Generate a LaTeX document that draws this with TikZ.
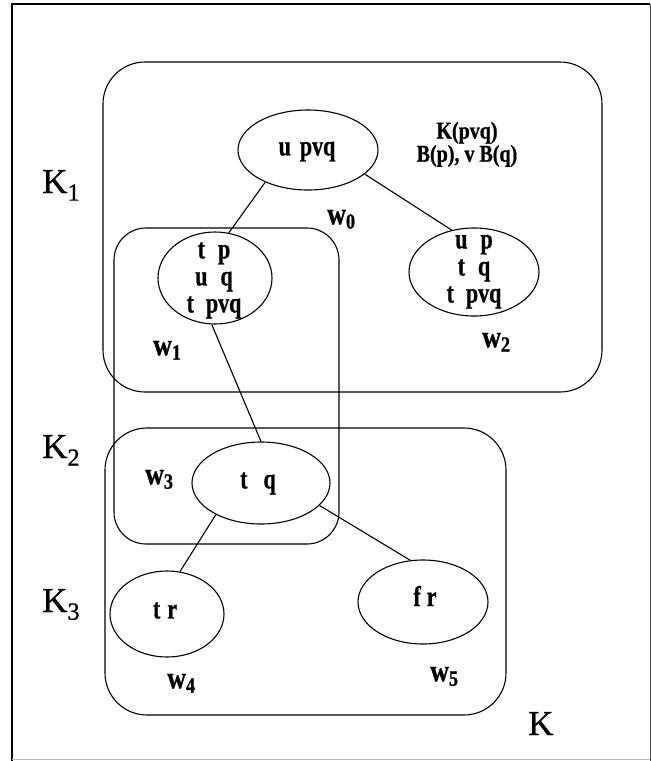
\documentclass[tikz,border=0pt]{standalone}
\usepackage{fontspec}
\setmainfont{Liberation Serif}[BoldFeatures={FakeBold=1}]
\newfontfamily\kfont{Liberation Serif}[FakeBold=0.8]
\usetikzlibrary{shapes.geometric}
% bold text stretched upward, one or more centred lines
\newcommand{\tallbf}[2][1.3]{\scalebox{1}[#1]{\begin{tabular}{@{}c@{}}#2\end{tabular}}}
\begin{document}
\begin{tikzpicture}[x=1pt,y=-1pt,
  world/.style={draw, ellipse, line width=1.1pt, inner sep=0pt},
  fact/.style={font=\fontsize{22}{20.8}\selectfont\bfseries, inner sep=0pt},
  wname/.style={font=\fontsize{26}{26}\selectfont\bfseries, anchor=west, inner sep=0pt},
  kname/.style={font=\kfont\fontsize{35}{40}\selectfont, anchor=base west, inner sep=0pt},
  cluster/.style={draw, line width=1.1pt},
  link/.style={line width=1.1pt}]
\useasboundingbox (0,0) rectangle (651,761);

% page frame
\draw[line width=1.4pt] (12,761) -- (12,4) -- (650,4);
\draw[line width=1pt, black!70] (650,4) -- (650,761);
\draw[line width=1pt, black!25] (12,759) -- (650,759);

% knowledge clusters
\draw[cluster, rounded corners=42pt] (103,62) rectangle (602,392);
\draw[cluster, rounded corners=32pt] (114,228) rectangle (339,544);
\draw[cluster, rounded corners=42pt] (105,428) rectangle (506,715);

% worlds
\node[world, minimum width=140pt, minimum height=80pt] (w0) at (308,150) {};
\node[world, minimum width=114pt, minimum height=92pt] (w1) at (215,278) {};
\node[world, minimum width=130pt, minimum height=88pt] (w2) at (474,272) {};
\node[world, minimum width=138pt, minimum height=82pt] (w3) at (261,483) {};
\node[world, minimum width=114pt, minimum height=86pt] (w4) at (167,614) {};
\node[world, minimum width=130pt, minimum height=84pt] (w5) at (423,602) {};

% facts true in each world
\node[fact] (f0) at (307,150) {\tallbf{u\hspace{9pt}pvq}};
\node[fact] (f1) at (214,280) {\tallbf{t\hspace{13pt}p\\u\hspace{13pt}q\\t\hspace{12pt}pvq}};
\node[fact] (f2) at (474,270) {\tallbf{u\hspace{13pt}p\\t\hspace{13pt}q\\t\hspace{12pt}pvq}};
\node[fact] (f3) at (258,483) {\tallbf{t\hspace{16pt}q}};
\node[fact] (f4) at (165,613) {\tallbf{t\hspace{7pt}r}};
\node[fact] (f5) at (425,600) {\tallbf{f\hspace{6pt}r}};

\node[font=\fontsize{20}{18}\selectfont\bfseries, inner sep=0pt]
  (kb) at (467,145) {\tallbf[1.2]{K(pvq)\\B(p), v B(q)}};

% accessibility links
\draw[link] (w0.217) -- (w1.73);
\draw[link] (w0.337) -- (w2.118);
\draw[link] (w1.266) -- (w3.90);
\draw[link] (w3.215) -- (w4.73);
\draw[link] (w3.339) -- (w5.107);

% world names
\node[wname] (n0) at (327,218) {\tallbf[1.2]{w\textsubscript{0}}};
\node[wname] (n1) at (153,349) {\tallbf[1.2]{w\textsubscript{1}}};
\node[wname] (n2) at (482,341) {\tallbf[1.2]{w\textsubscript{2}}};
\node[wname] (n3) at (145,478) {\tallbf[1.2]{w\textsubscript{3}}};
\node[wname] (n4) at (167,682) {\tallbf[1.2]{w\textsubscript{4}}};
\node[wname] (n5) at (430,675) {\tallbf[1.2]{w\textsubscript{5}}};

% cluster names
\node[kname] (k1) at (42,193) {K\textsubscript{1}};
\node[kname] (k2) at (42,458) {K\textsubscript{2}};
\node[kname] (k3) at (42,612) {K\textsubscript{3}};
\node[kname] (k) at (528,735) {K};
\end{tikzpicture}
\end{document}
